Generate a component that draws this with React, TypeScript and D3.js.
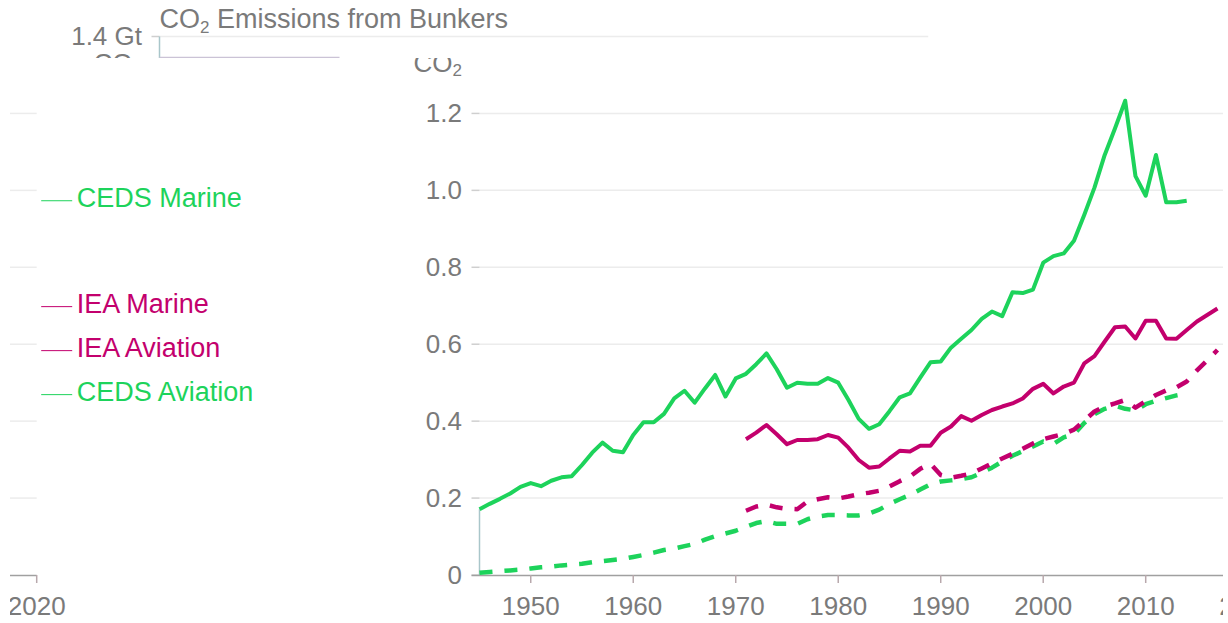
import React from "react";
import * as d3 from "d3";

const W = 1228;
const H = 623;

// first year of each source
const cedsStart = 1945;
const ieaStart = 1971;

// Gt CO2
const cedsMarine = [
  0.171, 0.185, 0.198, 0.212, 0.229, 0.239, 0.231, 0.245, 0.254, 0.257,
  0.286, 0.318, 0.344, 0.323, 0.319, 0.364, 0.397, 0.397, 0.419, 0.459,
  0.479, 0.448, 0.485, 0.52, 0.464, 0.511, 0.523, 0.548, 0.576, 0.535,
  0.487, 0.5, 0.497, 0.497, 0.512, 0.5, 0.455, 0.406, 0.38, 0.392,
  0.426, 0.462, 0.472, 0.513, 0.553, 0.555, 0.591, 0.614, 0.637, 0.666,
  0.685, 0.673, 0.735, 0.733, 0.742, 0.812, 0.829, 0.836, 0.869, 0.936,
  1.007, 1.092, 1.161, 1.233, 1.037, 0.986, 1.092, 0.969, 0.969, 0.973,
];
const cedsAviation = [
  0.006, 0.008, 0.01, 0.012, 0.014, 0.017, 0.02, 0.022, 0.025, 0.027,
  0.029, 0.033, 0.036, 0.039, 0.042, 0.047, 0.052, 0.058, 0.065, 0.069,
  0.075, 0.081, 0.092, 0.101, 0.108, 0.115, 0.125, 0.135, 0.14, 0.133,
  0.133, 0.133, 0.145, 0.152, 0.156, 0.156, 0.155, 0.155, 0.16, 0.17,
  0.185, 0.197, 0.208, 0.222, 0.236, 0.243, 0.246, 0.249, 0.254, 0.266,
  0.279, 0.295, 0.31, 0.322, 0.334, 0.347, 0.341, 0.358, 0.366, 0.395,
  0.418, 0.432, 0.44, 0.432, 0.428, 0.444, 0.453, 0.46, 0.467, 0.472,
];
const ieaMarine = [
  0.353, 0.37, 0.39, 0.366, 0.34, 0.351, 0.351, 0.353, 0.364, 0.357,
  0.331, 0.299, 0.279, 0.282, 0.303, 0.323, 0.321, 0.336, 0.336, 0.37,
  0.386, 0.413, 0.401, 0.416, 0.429, 0.438, 0.446, 0.459, 0.484, 0.497,
  0.472, 0.49, 0.5, 0.55, 0.569, 0.607, 0.644, 0.646, 0.615, 0.661,
  0.661, 0.615, 0.614, 0.637, 0.659, 0.676, 0.693,
];
const ieaAviation = [
  0.167, 0.178, 0.183, 0.176, 0.172, 0.171, 0.191, 0.197, 0.202, 0.199,
  0.204, 0.21, 0.214, 0.219, 0.23, 0.244, 0.256, 0.276, 0.289, 0.26,
  0.253, 0.258, 0.264, 0.277, 0.29, 0.303, 0.315, 0.328, 0.342, 0.353,
  0.36, 0.367, 0.378, 0.401, 0.425, 0.438, 0.446, 0.455, 0.435, 0.452,
  0.468, 0.48, 0.488, 0.503, 0.532, 0.558, 0.585,
];

const xTicks = [1950, 1960, 1970, 1980, 1990, 2000, 2010, 2020];
const yTicks = [0, 0.2, 0.4, 0.6, 0.8, 1.0, 1.2, 1.4];

const GREEN = "#1dd35b";
const MAGENTA = "#c3006d";
const GREY = "#7a7a7a";

const series = [
  { name: "CEDS Aviation", start: cedsStart, values: cedsAviation, color: GREEN, dashed: true },
  { name: "IEA Aviation", start: ieaStart, values: ieaAviation, color: MAGENTA, dashed: true },
  { name: "IEA Marine", start: ieaStart, values: ieaMarine, color: MAGENTA, dashed: false },
  { name: "CEDS Marine", start: cedsStart, values: cedsMarine, color: GREEN, dashed: false },
];

// scales
const x = d3.scaleLinear().domain([1945, 2020]).range([479.5, 1248.2]);
const y = d3.scaleLinear().domain([0, 1.4]).range([575, 36.5]);
const x0 = x.range()[0];
const x1 = x.range()[1];
const topTick = yTicks[yTicks.length - 1];

function pathFor(s: any) {
  return d3
    .line<number>()
    .x((_, i) => x(s.start + i))
    .y((d) => y(d))(s.values);
}

// end labels, pushed apart so they don't overlap
const endLabels = series
  .map((s) => ({ ...s, ly: y(s.values[s.values.length - 1]) }))
  .sort((a, b) => a.ly - b.ly);
for (let k = 0; k < 30; k++) {
  for (let i = 1; i < endLabels.length; i++) {
    const d = endLabels[i].ly - endLabels[i - 1].ly;
    if (d < 44) {
      const p = (44 - d) / 2;
      endLabels[i].ly += p;
      endLabels[i - 1].ly -= p;
    }
  }
}

const fmt = (v: number) => (v === 0 ? "0" : d3.format(".1f")(v));

function Co2Line() {
  return (
    <text x={x0 - 17.5} y={y(topTick) + 35} fontSize={26} fill={GREY} textAnchor="end">
      CO<tspan fontSize={17} dy={4}>2</tspan>
    </text>
  );
}

// strip at the top: title and the 1.4 Gt tick
function Header() {
  return (
    <g>
      <text x={x0} y={28} fontSize={27} fill={GREY}>
        CO<tspan fontSize={17} dy={5}>2</tspan>
        <tspan dy={-5}> Emissions from Bunkers</tspan>
      </text>
      <line x1={x0} x2={x1} y1={y(topTick)} y2={y(topTick)} stroke="#ececec" strokeWidth={1.5} />
      <line x1={x0 - 8} x2={x0} y1={y(topTick)} y2={y(topTick)} stroke="#cfcfcf" strokeWidth={1.5} />
      <text x={x0 - 17.5} y={y(topTick)} dy="0.34em" fontSize={26} fill={GREY} textAnchor="end">
        {fmt(topTick) + " Gt"}
      </text>
      <Co2Line />
      <line x1={x0} x2={x0} y1={y(topTick)} y2={y(0)} stroke="#a9c6ca" strokeWidth={1.5} />
      <line x1={x0} x2={x0 + 180} y1={57.5} y2={57.5} stroke="#cbc3d6" strokeWidth={1.5} />
    </g>
  );
}

// the plot itself
function Plot() {
  const ticks = yTicks.filter((t) => t < topTick);
  return (
    <g>
      {ticks.map((t) => (
        <g key={t}>
          {t > 0 && <line x1={x0} x2={x1} y1={y(t)} y2={y(t)} stroke="#ececec" strokeWidth={1.5} />}
          <line x1={x0 - 8} x2={x0} y1={y(t)} y2={y(t)} stroke="#cfcfcf" strokeWidth={1.5} />
          <text x={x0 - 17.5} y={y(t)} dy="0.34em" fontSize={26} fill={GREY} textAnchor="end">
            {fmt(t)}
          </text>
        </g>
      ))}
      <Co2Line />

      <line x1={x0 - 8} x2={x1} y1={y(0) + 0.5} y2={y(0) + 0.5} stroke="#a0a0a0" strokeWidth={1.5} />
      {xTicks.map((t) => (
        <g key={t}>
          <line x1={x(t)} x2={x(t)} y1={y(0)} y2={y(0) + 8} stroke="#b8a8ac" strokeWidth={1.5} />
          <text x={x(t)} y={615} fontSize={26} fill={GREY} textAnchor="middle">
            {t}
          </text>
        </g>
      ))}

      <line x1={x0} x2={x0} y1={y(cedsMarine[0])} y2={y(0)} stroke="#a9c6ca" strokeWidth={1.5} />

      {series.map((s) => (
        <path
          key={s.name}
          d={pathFor(s) || ""}
          fill="none"
          stroke={s.color}
          strokeWidth={s.dashed ? 4.5 : 4}
          strokeDasharray={s.dashed ? "13 12" : undefined}
          strokeLinejoin="round"
        />
      ))}
    </g>
  );
}

// right end of the plot: grid ends, last year tick, series labels
function RightEnd() {
  const last = xTicks[xTicks.length - 1];
  return (
    <g>
      {yTicks
        .filter((t) => t > 0 && t < topTick)
        .map((t) => (
          <line key={t} x1={x1 - 30} x2={x1} y1={y(t)} y2={y(t)} stroke="#ececec" strokeWidth={1.5} />
        ))}
      <line x1={x1 - 30} x2={x1} y1={y(0) + 0.5} y2={y(0) + 0.5} stroke="#a0a0a0" strokeWidth={1.5} />
      <line x1={x(last)} x2={x(last)} y1={y(0)} y2={y(0) + 8} stroke="#b8a8ac" strokeWidth={1.5} />
      <text x={x(last)} y={615} fontSize={26} fill={GREY} textAnchor="middle">
        {last}
      </text>
      {endLabels.map((s) => (
        <g key={s.name}>
          <line x1={x1 + 4.5} x2={x1 + 35.5} y1={s.ly} y2={s.ly} stroke={s.color} strokeWidth={1} />
          <text x={x1 + 40} y={s.ly + 6.5} fontSize={27} fill={s.color}>
            {s.name}
          </text>
        </g>
      ))}
    </g>
  );
}

export default function App() {
  return (
    <svg
      width={W}
      height={H}
      style={{ position: "absolute", left: 0, top: 0, background: "#fff" }}
      fontFamily="'Liberation Sans', Arial, sans-serif"
    >
      <defs>
        <clipPath id="clipHead">
          <rect x={0} y={0} width={W} height={58} />
        </clipPath>
        <clipPath id="clipMain">
          <rect x={0} y={58} width={1223} height={H - 58} />
        </clipPath>
        <clipPath id="clipLeft">
          <rect x={10} y={58} width={390} height={H - 58} />
        </clipPath>
      </defs>
      <g clipPath="url(#clipHead)">
        <g transform="translate(-320,0)">
          <Header />
        </g>
      </g>
      <g clipPath="url(#clipMain)">
        <Plot />
      </g>
      <g clipPath="url(#clipLeft)">
        <g transform="translate(-1211.5,0)">
          <RightEnd />
        </g>
      </g>
    </svg>
  );
}
